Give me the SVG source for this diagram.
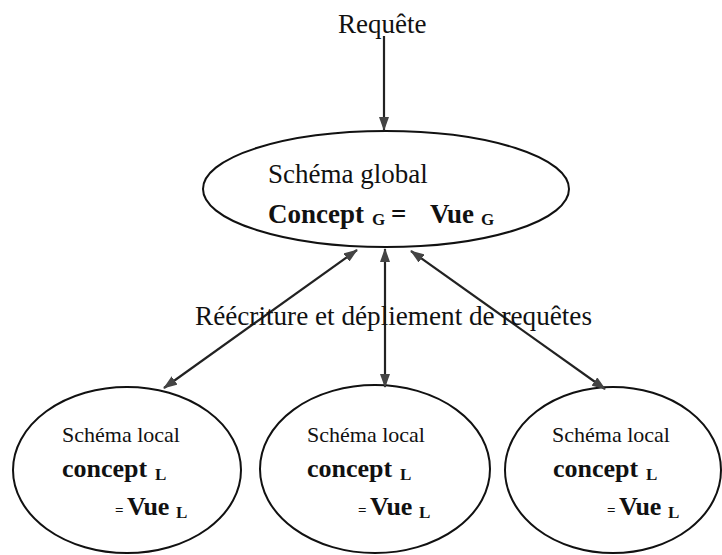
<svg xmlns="http://www.w3.org/2000/svg" width="722" height="555" viewBox="0 0 722 555">
<style>
text{font-family:"Liberation Serif","Times New Roman",serif;fill:#111}
.t{font-size:27px}
.g{font-size:27px}
.s{font-size:22px}
.b{font-size:27px;font-weight:bold}
.bl{font-size:26px;font-weight:bold}
.sub{font-size:17px;font-weight:bold}
.eq{font-size:15px;font-weight:bold}
ellipse{fill:#fff;stroke:#111;stroke-width:2}
.c line{stroke:#222;stroke-width:2.2}
</style>
<defs>
<marker id="ah" viewBox="0 0 14 10" refX="13" refY="5" markerWidth="14" markerHeight="10" markerUnits="userSpaceOnUse" orient="auto-start-reverse">
<path d="M0,0 L14,5 L0,10 Z" fill="#444"/>
</marker>
</defs>
<g id="label-requete"><text class="t" x="338" y="33">Requête</text></g>
<g id="global">
<ellipse cx="386" cy="189" rx="183" ry="58"/>
<text class="g" x="268" y="183">Schéma global</text>
<text class="b" x="268" y="223">Concept</text>
<text class="sub" x="372" y="225">G</text>
<text class="b" x="391" y="223">=</text>
<text class="b" x="430" y="223">Vue</text>
<text class="sub" x="481" y="225">G</text>
</g>
<g id="local1">
<ellipse cx="127" cy="470" rx="114" ry="83"/>
<text class="s" x="62" y="442">Schéma local</text>
<text class="bl" x="62" y="477">concept</text>
<text class="sub" x="155" y="480">L</text>
<text class="eq" x="115" y="515">=</text>
<text class="bl" x="127" y="515">Vue</text>
<text class="sub" x="176" y="518">L</text>
</g>
<g id="local2">
<ellipse cx="375" cy="469" rx="115" ry="84"/>
<text class="s" x="307" y="442">Schéma local</text>
<text class="bl" x="307" y="477">concept</text>
<text class="sub" x="400" y="480">L</text>
<text class="eq" x="358" y="515">=</text>
<text class="bl" x="370" y="515">Vue</text>
<text class="sub" x="419" y="518">L</text>
</g>
<g id="local3">
<ellipse cx="613" cy="470" rx="108" ry="83"/>
<text class="s" x="552" y="442">Schéma local</text>
<text class="bl" x="553" y="477">concept</text>
<text class="sub" x="646" y="480">L</text>
<text class="eq" x="607" y="515">=</text>
<text class="bl" x="619" y="515">Vue</text>
<text class="sub" x="668" y="518">L</text>
</g>
<g id="connectors" class="c">
<line x1="384" y1="36" x2="384" y2="130" marker-end="url(#ah)"/>
<line x1="357" y1="250" x2="164" y2="388" marker-start="url(#ah)" marker-end="url(#ah)"/>
<line x1="385" y1="249" x2="385" y2="387" marker-start="url(#ah)" marker-end="url(#ah)"/>
<line x1="411" y1="251" x2="605" y2="389" marker-start="url(#ah)" marker-end="url(#ah)"/>
</g>
<g id="label-reecriture"><text class="t" x="195" y="325" textLength="397" lengthAdjust="spacingAndGlyphs">Réécriture et dépliement de requêtes</text></g>
</svg>
